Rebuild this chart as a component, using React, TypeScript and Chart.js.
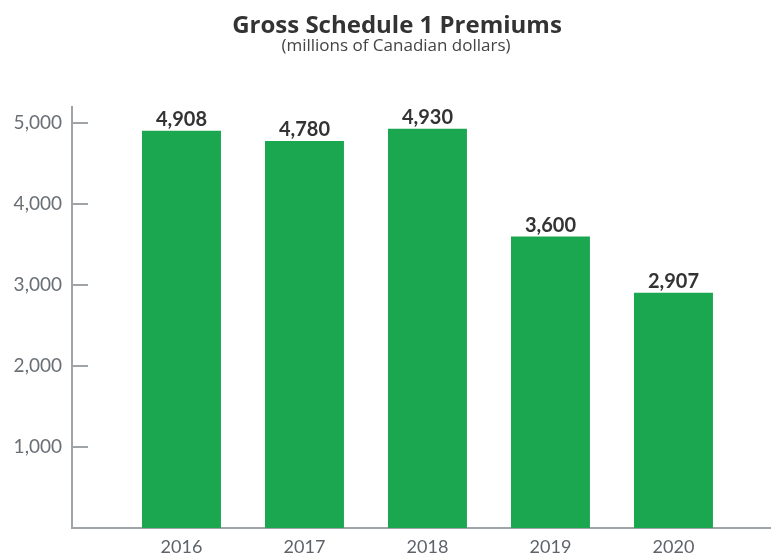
import React, { useEffect, useRef } from "react";
import { Chart, registerables } from "chart.js";

Chart.register(...registerables);

const years = [2016, 2017, 2018, 2019, 2020];
const premiums = [4908, 4780, 4930, 3600, 2907];
const yTickValues = [1000, 2000, 3000, 4000, 5000];
const titleText = "Gross Schedule 1 Premiums";
const subtitleText = "(millions of Canadian dollars)";

const AXIS_COLOR = "#9fa4a9";
const BAR_COLOR = "#1ba650";
const FONT = "Lato, 'Open Sans', sans-serif";
const TITLE_FONT = "'Open Sans', Lato, sans-serif";

const fmt = (v: number) => v.toLocaleString("en-US");

const decorPlugin = {
  id: "decor",
  afterDraw(chart: any) {
    const ctx = chart.ctx;
    const { chartArea } = chart;
    const yScale = chart.scales.y;
    ctx.save();
    // inward y tick marks
    ctx.strokeStyle = AXIS_COLOR;
    ctx.lineWidth = 2;
    yTickValues.forEach((v) => {
      const py = Math.round(yScale.getPixelForValue(v));
      ctx.beginPath();
      ctx.moveTo(chartArea.left, py);
      ctx.lineTo(chartArea.left + 16, py);
      ctx.stroke();
    });
    // value labels
    const meta = chart.getDatasetMeta(0);
    ctx.fillStyle = "#333333";
    ctx.font = `bold 20px ${FONT}`;
    ctx.textAlign = "center";
    ctx.textBaseline = "alphabetic";
    meta.data.forEach((bar: any, i: number) => {
      ctx.fillText(fmt(premiums[i]), bar.x, bar.y - 5);
    });
    // title and subtitle
    ctx.fillStyle = "#333333";
    ctx.font = `bold 24px ${TITLE_FONT}`;
    ctx.fillText(titleText, 397, 33);
    ctx.fillStyle = "#444444";
    ctx.font = `17px ${TITLE_FONT}`;
    ctx.fillText(subtitleText, 396, 51);
    ctx.restore();
  },
};

export default function App() {
  const canvasRef = useRef<HTMLCanvasElement | null>(null);

  useEffect(() => {
    if (!canvasRef.current) return;
    const chart = new Chart(canvasRef.current, {
      type: "bar",
      data: {
        datasets: [
          {
            data: years.map((y, i) => ({ x: y, y: premiums[i] })),
            backgroundColor: BAR_COLOR,
            borderWidth: 0,
            barPercentage: 0.642,
            categoryPercentage: 1,
          },
        ],
      },
      options: {
        animation: false,
        responsive: true,
        maintainAspectRatio: false,
        layout: { padding: { top: 107, left: 0, right: 0, bottom: 0 } },
        plugins: {
          legend: { display: false },
          tooltip: { enabled: false },
          title: { display: false },
        },
        scales: {
          x: {
            type: "linear",
            offset: false,
            min: 2015.11,
            max: 2020.793,
            afterBuildTicks: (scale: any) => {
              scale.ticks = years.map((v) => ({ value: v }));
            },
            afterFit: (scale: any) => {
              scale.height = 27;
            },
            grid: { display: false, drawTicks: false, offset: false },
            border: { display: true, color: AXIS_COLOR, width: 2 },
            ticks: {
              padding: 8,
              color: "#5f646a",
              font: { family: FONT, size: 18 },
              callback: (v: any) => String(v),
            },
          },
          y: {
            min: 0,
            max: 5200,
            afterBuildTicks: (scale: any) => {
              scale.ticks = yTickValues.map((v) => ({ value: v }));
            },
            afterFit: (scale: any) => {
              scale.width = 72;
            },
            grid: { display: false, drawTicks: false },
            border: { display: true, color: AXIS_COLOR, width: 2 },
            ticks: {
              padding: 10,
              color: "#6a6f75",
              font: { family: FONT, size: 19 },
              callback: (v: any) => fmt(Number(v)),
            },
          },
        },
      },
      plugins: [decorPlugin],
    });
    return () => chart.destroy();
  }, []);

  return (
    <div style={{ position: "fixed", left: 0, top: 0, width: 771, height: 555, background: "#ffffff" }}>
      <canvas ref={canvasRef} />
    </div>
  );
}
